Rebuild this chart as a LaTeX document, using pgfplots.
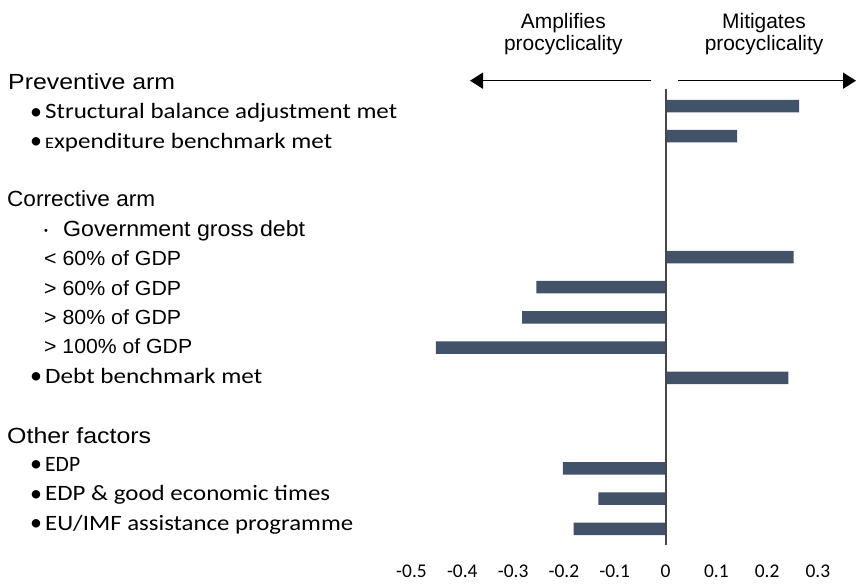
\documentclass[border=0pt]{standalone}
\usepackage{pgfplots}
\pgfplotsset{compat=1.18}
\usepackage{graphicx}
\usepackage{fontspec}
\usetikzlibrary{arrows.meta}
\setmainfont{Liberation Sans}
\newfontfamily\arialf{Liberation Sans}
\newfontfamily\calf{Carlito}
\definecolor{barc}{HTML}{415269}
\newcommand{\A}[3]{\resizebox{#1bp}{\height}{\arialf\fontsize{#2}{#2}\selectfont #3}}
\newcommand{\C}[2]{\resizebox{#1bp}{\height}{\calf\fontsize{22}{22}\selectfont #2}}
\newcommand{\bul}{\hspace*{30bp}\makebox[15bp][l]{\raisebox{-0.3bp}{\calf\fontsize{24}{24}\selectfont •}}}
\begin{document}
\begin{tikzpicture}
\begin{axis}[
  x=508bp, y=30.2bp,
  xmin=-1.31, xmax=0.375, ymin=-16.606, ymax=2.51,
  clip=false,
  axis line style={draw=none},
  major tick length=0pt,
  xtick={-0.5,-0.4,-0.3,-0.2,-0.1,0,0.1,0.2,0.3},
  xticklabels={-0.5,-0.4,-0.3,-0.2,-0.1,0,0.1,0.2,0.3},
  xticklabel style={font=\calf\fontsize{19.5}{19.5}\selectfont, anchor=base, inner sep=0pt},
  ytick={-0.447,-1.421,-2.394,-4.341,-5.315,-6.288,-7.262,-8.235,-9.209,-10.182,-12.16,-13.103,-14.076,-15.05},
  yticklabels={
    {\hspace*{8bp}\A{167}{22}{Preventive arm}},
    {\bul\C{352}{Structural balance adjustment met}},
    {\bul\C{287}{{\fontsize{16}{16}\selectfont E}xpenditure benchmark met}},
    {\hspace*{7bp}\A{148}{22}{Corrective arm}},
    {\hspace*{44bp}\makebox[19bp][l]{\raisebox{1.5bp}{\arialf\fontsize{11}{11}\selectfont •}}\A{242}{22}{Government gross debt}},
    {\hspace*{44bp}\A{137}{20.5}{< 60\% of GDP}},
    {\hspace*{44bp}\A{137}{20.5}{> 60\% of GDP}},
    {\hspace*{44bp}\A{137}{20.5}{> 80\% of GDP}},
    {\hspace*{44bp}\A{148}{20.5}{> 100\% of GDP}},
    {\bul\C{217}{Debt benchmark met}},
    {\hspace*{7bp}\A{144}{22}{Other factors}},
    {\bul\C{35}{EDP}},
    {\bul\C{285}{EDP \& good economic times}},
    {\bul\C{308}{EU/IMF assistance programme}}
  },
  yticklabel style={anchor=base west, inner sep=0pt},
]
\addplot[xbar, bar width=12.5bp, bar shift=0pt, fill=barc, draw=none]
  coordinates {(0.263,-1) (0.141,-2) (0.252,-6) (-0.254,-7) (-0.282,-8)
               (-0.452,-9) (0.242,-10) (-0.202,-13) (-0.132,-14) (-0.181,-15)};
\draw[line width=2bp, color=black!72] (axis cs:0,-0.44) -- (axis cs:0,-15.54);
\draw[line width=1.6bp, -{Triangle[length=13bp,width=16bp]}] (axis cs:-0.0285,-0.162) -- (axis cs:-0.3848,-0.162);
\draw[line width=1.6bp, -{Triangle[length=13bp,width=16bp]}] (axis cs:0.0246,-0.162) -- (axis cs:0.375,-0.162);
\node[anchor=north, align=center, inner sep=0pt, font={\arialf\fontsize{21}{22}\selectfont}] at (axis cs:-0.201,2.063) {Amplifies\\procyclicality};
\node[anchor=north, align=center, inner sep=0pt, font={\arialf\fontsize{21}{22}\selectfont}] at (axis cs:0.194,2.063) {Mitigates\\procyclicality};
\coordinate (bbA) at (axis cs:-1.31,2.51);
\coordinate (bbB) at (axis cs:0.375,-16.83);
\end{axis}
\pgfresetboundingbox
\path[use as bounding box] (bbA) rectangle (bbB);
\end{tikzpicture}
\end{document}
